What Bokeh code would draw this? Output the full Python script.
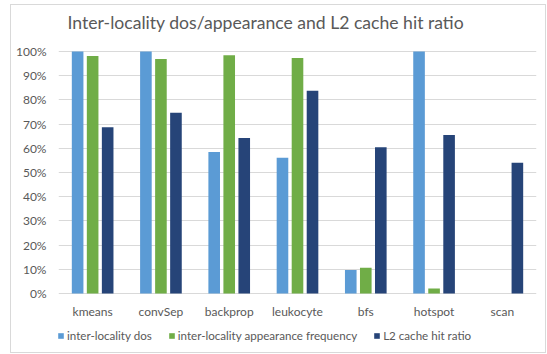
from bokeh.plotting import figure
from bokeh.models import (FactorRange, Range1d, NumeralTickFormatter, FixedTicker,
                          Legend, LegendItem, Label, ColumnDataSource)
from bokeh.transform import dodge
from bokeh.embed import file_html
from bokeh.resources import INLINE

categories = ["kmeans", "convSep", "backprop", "leukocyte", "bfs", "hotspot", "scan"]
dos = [1.00, 1.00, 0.585, 0.561, 0.097, 1.00, 0.0]
appearance = [0.981, 0.969, 0.985, 0.973, 0.106, 0.021, 0.0]
l2_hit = [0.687, 0.747, 0.643, 0.838, 0.604, 0.655, 0.540]
series_names = ["inter-locality dos", "inter-locality appearance frequency", "L2 cache hit ratio"]
colors = ["#5B9BD5", "#70AD47", "#264478"]
y_ticks = [i / 10 for i in range(11)]
title_text = "Inter-locality dos/appearance and L2 cache hit ratio"

FONT = "Lato"
TXT = "#595959"

src = ColumnDataSource(dict(cat=categories, dos=dos, app=appearance, l2=l2_hit))

g = "linear-gradient(#D9D9D9,#D9D9D9)"
border_bg = (f"{g} 10px 4px / 536px 1px no-repeat, {g} 10px 352px / 536px 1px no-repeat, "
             f"{g} 10px 4px / 1px 349px no-repeat, {g} 545px 4px / 1px 349px no-repeat, #ffffff")

# frame covers y = 0..352 px; 0% sits at 293 px, 100% at 51 px
PX = 242.0
p = figure(width=547, height=354, x_range=FactorRange(*categories, range_padding=0),
           y_range=Range1d(-(352 - 293) / PX, 1 + 51 / PX),
           output_backend="svg", toolbar_location=None,
           min_border_left=58, min_border_right=11, min_border_top=0, min_border_bottom=2,
           styles={"background": border_bg})
p.title_location = None
p.outline_line_color = None
p.background_fill_alpha = 0
p.border_fill_alpha = 0

r1 = p.vbar(x=dodge("cat", -0.22, range=p.x_range), top="dos", width=0.17, source=src,
            fill_color=colors[0], line_color=None)
r2 = p.vbar(x=dodge("cat", 0.0, range=p.x_range), top="app", width=0.17, source=src,
            fill_color=colors[1], line_color=None)
r3 = p.vbar(x=dodge("cat", 0.22, range=p.x_range), top="l2", width=0.17, source=src,
            fill_color=colors[2], line_color=None)

p.xgrid.grid_line_color = None
p.ygrid.grid_line_color = "#D9D9D9"
p.ygrid.ticker = FixedTicker(ticks=y_ticks)

p.yaxis.ticker = FixedTicker(ticks=y_ticks)
p.yaxis.formatter = NumeralTickFormatter(format="0%")
for ax in (p.xaxis[0], p.yaxis[0]):
    ax.axis_line_color = None
    ax.major_tick_line_color = None
    ax.minor_tick_line_color = None
    ax.major_tick_out = 0
    ax.major_tick_in = 0
    ax.major_label_text_font = FONT
    ax.major_label_text_font_size = "12px"
    ax.major_label_text_color = TXT
p.yaxis.major_label_standoff = 12
# category axis drawn inside the frame just under the 0% line
p.xaxis.major_label_standoff = -15
p.xaxis.fixed_location = -(318 - 293) / PX

p.add_layout(Label(x=0.132, y=1 + (51 - 22) / PX, text=title_text, text_align="left",
                   text_baseline="middle", text_font=FONT, text_font_size="17.6px",
                   text_color=TXT))

legend = Legend(items=[LegendItem(label=series_names[0], renderers=[r1]),
                       LegendItem(label=series_names[1], renderers=[r2]),
                       LegendItem(label=series_names[2], renderers=[r3])],
                orientation="horizontal", location=(-1, 10), glyph_width=7, glyph_height=7,
                label_standoff=3, spacing=16, padding=0, margin=0,
                border_line_color=None, background_fill_alpha=0,
                label_text_font=FONT, label_text_font_size="11.6px", label_text_color=TXT)
p.add_layout(legend, "center")

open("out.html", "w").write(file_html(p, INLINE))
